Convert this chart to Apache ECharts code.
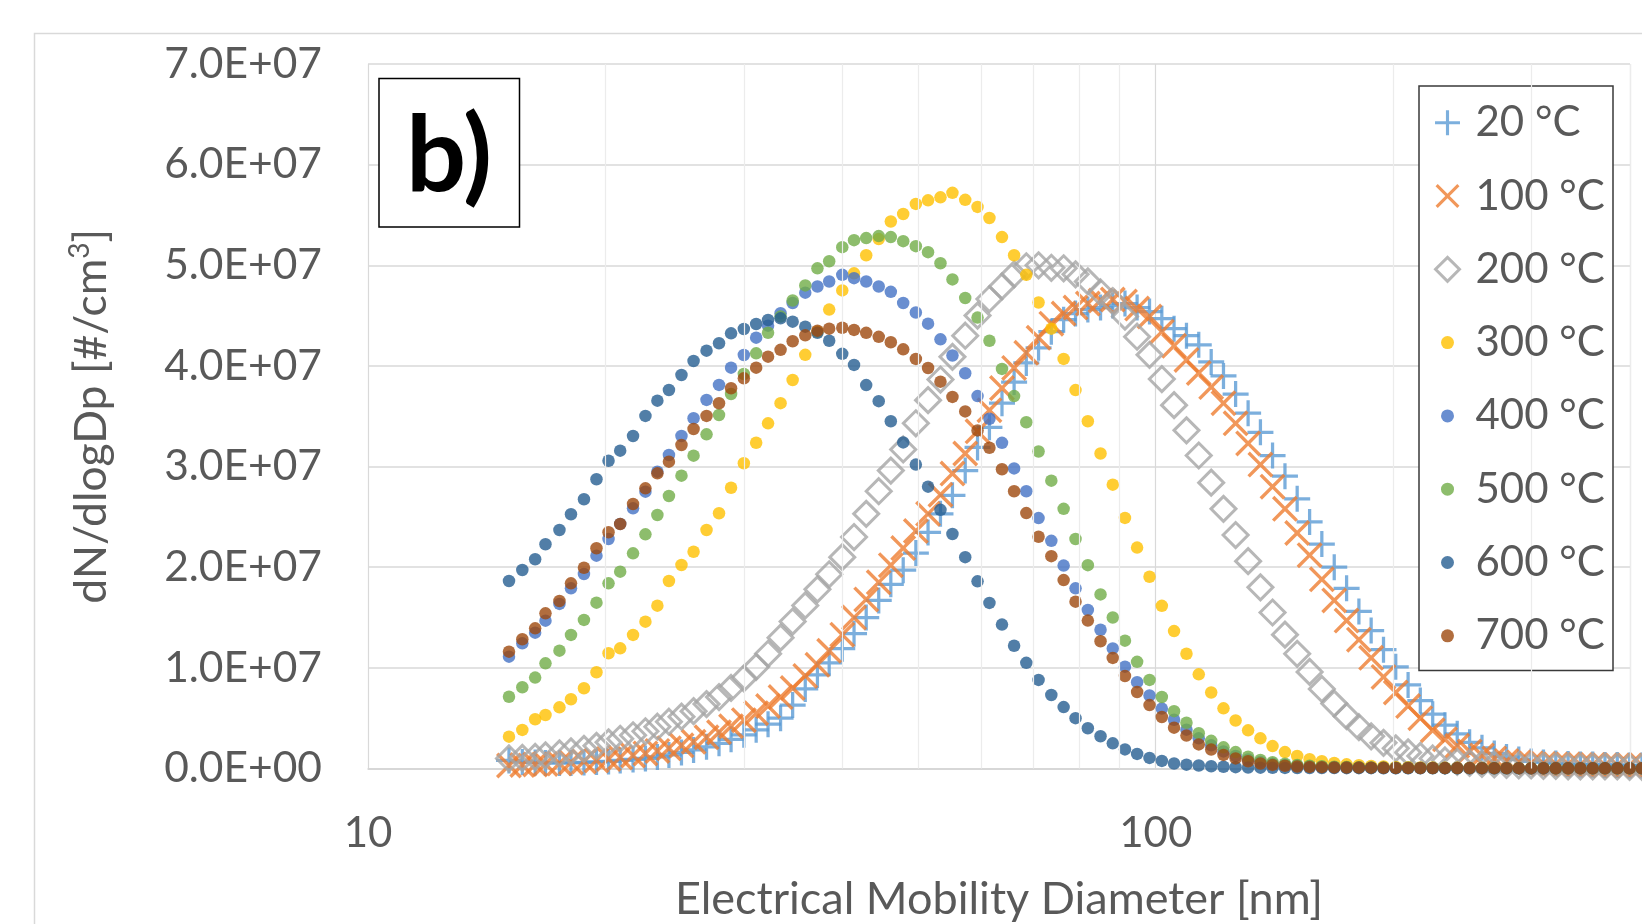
<!DOCTYPE html>
<html>
<head>
<meta charset="utf-8">
<script src="https://cdn.jsdelivr.net/npm/echarts@6/dist/echarts.min.js"></script>
<style>
html,body{margin:0;padding:0;background:#ffffff;}
#chart{width:1642px;height:924px;}
</style>
</head>
<body>
<div id="chart"></div>
<script>
// Electrical mobility diameter channels [nm]
const diameters = [
  15.1, 15.7, 16.3, 16.8, 17.5, 18.1, 18.8, 19.5, 20.2, 20.9,
  21.7, 22.5, 23.3, 24.1, 25.0, 25.9, 26.9, 27.9, 28.9, 30.0,
  31.1, 32.2, 33.4, 34.6, 35.9, 37.2, 38.5, 40.0, 41.4, 42.9,
  44.5, 46.1, 47.8, 49.6, 51.4, 53.3, 55.2, 57.3, 59.4, 61.5,
  63.8, 66.1, 68.5, 71.0, 73.7, 76.4, 79.1, 82.0, 85.1, 88.2,
  91.4, 94.7, 98.2, 101.8, 105.5, 109.4, 113.4, 117.6, 121.9, 126.3,
  131.0, 135.8, 140.7, 145.9, 151.2, 156.8, 162.5, 168.5, 174.7, 181.1,
  187.7, 194.6, 201.7, 209.1, 216.7, 224.7, 232.9, 241.4, 250.3, 259.5,
  269.0, 278.8, 289.0, 299.6, 310.6, 322.0, 333.8, 346.0, 358.7, 371.8,
  385.4, 399.5, 414.2
];

// dN/dlogDp values, in units of 1E+07 #/cm3
const s20 = [
  0.08, 0.065, 0.06, 0.055, 0.055, 0.055, 0.06, 0.065, 0.07, 0.08,
  0.09, 0.10, 0.115, 0.135, 0.16, 0.185, 0.215, 0.25, 0.29, 0.335,
  0.385, 0.44, 0.50, 0.63, 0.79, 0.93, 1.05, 1.19, 1.34, 1.50,
  1.67, 1.83, 1.97, 2.14, 2.345, 2.53, 2.715, 2.96, 3.19, 3.39,
  3.63, 3.84, 4.03, 4.18, 4.34, 4.46, 4.52, 4.56, 4.58, 4.60,
  4.62, 4.58, 4.54, 4.47, 4.37, 4.30, 4.21, 4.04, 3.90, 3.72,
  3.53, 3.34, 3.11, 2.905, 2.68, 2.45, 2.23, 2.00, 1.79, 1.56,
  1.37, 1.18, 1.01, 0.83, 0.675, 0.54, 0.43, 0.345, 0.26, 0.205,
  0.15, 0.115, 0.09, 0.07, 0.06, 0.05, 0.045, 0.04, 0.04, 0.035,
  0.035, 0.03, 0.03
];
const s100 = [
  0.03, 0.035, 0.04, 0.045, 0.05, 0.06, 0.07, 0.08, 0.095, 0.11,
  0.13, 0.15, 0.175, 0.20, 0.23, 0.265, 0.31, 0.36, 0.42, 0.48,
  0.55, 0.62, 0.71, 0.80, 0.92, 1.03, 1.17, 1.33, 1.50, 1.68,
  1.85, 2.02, 2.19, 2.36, 2.53, 2.72, 2.93, 3.13, 3.35, 3.56,
  3.78, 3.98, 4.13, 4.28, 4.42, 4.52, 4.58, 4.62, 4.65, 4.66,
  4.64, 4.57, 4.49, 4.34, 4.20, 4.06, 3.93, 3.79, 3.63, 3.43,
  3.23, 3.02, 2.80, 2.58, 2.34, 2.12, 1.88, 1.67, 1.47, 1.28,
  1.10, 0.91, 0.755, 0.62, 0.50, 0.38, 0.29, 0.225, 0.17, 0.13,
  0.10, 0.075, 0.06, 0.05, 0.045, 0.04, 0.04, 0.035, 0.035, 0.03,
  0.03, 0.03, 0.03
];
const s200 = [
  0.10, 0.105, 0.115, 0.13, 0.15, 0.17, 0.195, 0.225, 0.26, 0.295,
  0.33, 0.37, 0.415, 0.465, 0.515, 0.57, 0.64, 0.71, 0.80, 0.895,
  1.01, 1.14, 1.30, 1.46, 1.62, 1.78, 1.93, 2.10, 2.30, 2.53,
  2.755, 2.96, 3.17, 3.43, 3.66, 3.865, 4.09, 4.30, 4.50, 4.665,
  4.79, 4.91, 4.99, 5.00, 4.975, 4.97, 4.91, 4.84, 4.73, 4.645,
  4.49, 4.29, 4.11, 3.87, 3.61, 3.36, 3.11, 2.84, 2.58, 2.32,
  2.06, 1.80, 1.55, 1.33, 1.14, 0.96, 0.79, 0.645, 0.52, 0.41,
  0.32, 0.255, 0.20, 0.16, 0.125, 0.10, 0.08, 0.065, 0.055, 0.045,
  0.04, 0.035, 0.03, 0.03, 0.025, 0.025, 0.02, 0.02, 0.02, 0.02,
  0.02, 0.015, 0.015
];
const s300 = [
  0.316, 0.383, 0.489, 0.532, 0.608, 0.688, 0.797, 0.956, 1.145, 1.194,
  1.327, 1.459, 1.618, 1.863, 2.022, 2.154, 2.37, 2.536, 2.79, 3.033,
  3.237, 3.43, 3.63, 3.86, 4.11, 4.34, 4.56, 4.75, 4.92, 5.10,
  5.26, 5.435, 5.51, 5.61, 5.645, 5.675, 5.72, 5.65, 5.58, 5.47,
  5.28, 5.10, 4.905, 4.63, 4.37, 4.07, 3.76, 3.45, 3.13, 2.82,
  2.49, 2.195, 1.905, 1.616, 1.365, 1.14, 0.936, 0.755, 0.598, 0.477,
  0.379, 0.30, 0.223, 0.163, 0.124, 0.093, 0.072, 0.055, 0.041, 0.032,
  0.025, 0.02, 0.016, 0.013, 0.011, 0.009, 0.008, 0.007, 0.006, 0.005,
  0.005, 0.004, 0.004, 0.004, 0.003, 0.003, 0.003, 0.003, 0.002, 0.002,
  0.002, 0.002, 0.002
];
const s400 = [
  1.111, 1.244, 1.35, 1.469, 1.635, 1.79, 1.933, 2.115, 2.28, 2.43,
  2.585, 2.751, 2.949, 3.115, 3.304, 3.48, 3.662, 3.811, 3.983, 4.109,
  4.281, 4.40, 4.523, 4.625, 4.728, 4.789, 4.839, 4.905, 4.872, 4.839,
  4.789, 4.736, 4.625, 4.531, 4.42, 4.264, 4.104, 3.927, 3.70, 3.475,
  3.236, 2.982, 2.755, 2.488, 2.262, 2.016, 1.79, 1.576, 1.379, 1.193,
  1.012, 0.858, 0.725, 0.595, 0.484, 0.386, 0.30, 0.23, 0.17, 0.125,
  0.09, 0.065, 0.046, 0.034, 0.025, 0.019, 0.015, 0.012, 0.01, 0.008,
  0.007, 0.006, 0.005, 0.005, 0.004, 0.004, 0.003, 0.003, 0.003, 0.003,
  0.002, 0.002, 0.002, 0.002, 0.002, 0.002, 0.002, 0.002, 0.002, 0.002,
  0.002, 0.002, 0.002
];
const s500 = [
  0.713, 0.807, 0.903, 1.045, 1.171, 1.327, 1.476, 1.648, 1.84, 1.956,
  2.138, 2.327, 2.519, 2.708, 2.91, 3.108, 3.32, 3.512, 3.721, 3.92,
  4.125, 4.33, 4.49, 4.65, 4.80, 4.97, 5.04, 5.18, 5.25, 5.27,
  5.29, 5.28, 5.24, 5.19, 5.13, 5.02, 4.86, 4.675, 4.48, 4.25,
  3.97, 3.70, 3.44, 3.15, 2.86, 2.58, 2.28, 2.02, 1.73, 1.50,
  1.27, 1.06, 0.88, 0.71, 0.57, 0.455, 0.35, 0.275, 0.21, 0.163,
  0.117, 0.085, 0.062, 0.047, 0.036, 0.028, 0.022, 0.018, 0.015, 0.012,
  0.01, 0.009, 0.008, 0.007, 0.006, 0.005, 0.005, 0.004, 0.004, 0.004,
  0.003, 0.003, 0.003, 0.003, 0.003, 0.002, 0.002, 0.002, 0.002, 0.002,
  0.002, 0.002, 0.002
];
const s600 = [
  1.863, 1.972, 2.079, 2.228, 2.37, 2.526, 2.675, 2.874, 3.058, 3.158,
  3.304, 3.503, 3.655, 3.761, 3.91, 4.049, 4.152, 4.225, 4.324, 4.367,
  4.417, 4.456, 4.473, 4.44, 4.39, 4.33, 4.25, 4.12, 4.01, 3.81,
  3.65, 3.45, 3.24, 3.02, 2.80, 2.57, 2.33, 2.10, 1.86, 1.645,
  1.43, 1.22, 1.05, 0.88, 0.73, 0.61, 0.50, 0.40, 0.32, 0.25,
  0.19, 0.145, 0.105, 0.075, 0.05, 0.038, 0.03, 0.022, 0.017, 0.013,
  0.01, 0.008, 0.007, 0.006, 0.005, 0.005, 0.004, 0.004, 0.003, 0.003,
  0.003, 0.002, 0.002, 0.002, 0.002, 0.002, 0.002, 0.002, 0.002, 0.002,
  0.002, 0.002, 0.002, 0.002, 0.002, 0.002, 0.002, 0.002, 0.002, 0.002,
  0.002, 0.002, 0.002
];
const s700 = [
  1.161, 1.284, 1.393, 1.542, 1.664, 1.84, 1.995, 2.188, 2.347, 2.429,
  2.628, 2.784, 2.933, 3.049, 3.214, 3.373, 3.503, 3.629, 3.778, 3.877,
  3.983, 4.092, 4.16, 4.245, 4.304, 4.35, 4.37, 4.379, 4.358, 4.329,
  4.289, 4.235, 4.165, 4.07, 3.979, 3.844, 3.692, 3.548, 3.359, 3.187,
  2.973, 2.755, 2.538, 2.303, 2.11, 1.872, 1.658, 1.47, 1.264, 1.099,
  0.919, 0.76, 0.63, 0.512, 0.406, 0.327, 0.239, 0.188, 0.135, 0.10,
  0.072, 0.05, 0.036, 0.027, 0.02, 0.016, 0.013, 0.011, 0.01, 0.009,
  0.008, 0.007, 0.006, 0.006, 0.005, 0.005, 0.004, 0.004, 0.004, 0.003,
  0.003, 0.003, 0.003, 0.003, 0.003, 0.002, 0.002, 0.002, 0.002, 0.002,
  0.002, 0.002, 0.002
];

const seriesNames = ['20 °C', '100 °C', '200 °C', '300 °C', '400 °C', '500 °C', '600 °C', '700 °C'];
const seriesValues = [s20, s100, s200, s300, s400, s500, s600, s700];
const seriesColors = ['#5B9BD5', '#ED7D31', '#A5A5A5', '#FFC000', '#4472C4', '#70AD47', '#255E91', '#9E480E'];

const yTickValues = [0, 1, 2, 3, 4, 5, 6, 7];          // x 1E+07
const xMajorTicks = [10, 100];
const xMinorGrid = [20, 30, 40, 50, 60, 70, 80, 90, 200, 300, 400];

const FONT = 'Lato, "Open Sans", sans-serif';
const TXT = '#595959';

// marker shapes
const plusShape = 'M44,2H56V44H98V56H56V98H44V56H2V44H44Z';
const crossShape = 'M4,12.5L12.5,4L50,41.5L87.5,4L96,12.5L58.5,50L96,87.5L87.5,96L50,58.5L12.5,96L4,87.5L41.5,50Z';
const boxPad = 'M0,0M100,100';
const legendIcons = [
  'path://' + boxPad + plusShape,
  'path://' + boxPad + crossShape,
  'path://' + boxPad + 'M50,4L96,50L50,96L4,50Z',
  'path://' + boxPad + 'M50,25A25,25,0,1,1,50,75A25,25,0,1,1,50,25Z'
];

function buildSeries(i) {
  const data = diameters.map((d, k) => [d, seriesValues[i][k]]);
  const base = {
    name: seriesNames[i],
    type: 'scatter',
    data: data,
    clip: false,
    animation: false,
    silent: true,
    z: 3
  };
  if (i === 0) {
    base.symbol = 'path://' + plusShape;
    base.symbolSize = 26;
    base.itemStyle = { color: seriesColors[i] };
  } else if (i === 1) {
    base.symbol = 'path://' + crossShape;
    base.symbolSize = 26;
    base.itemStyle = { color: seriesColors[i] };
  } else if (i === 2) {
    base.symbol = 'diamond';
    base.symbolSize = 25;
    base.itemStyle = { color: 'rgba(255,255,255,0)', borderColor: seriesColors[i], borderWidth: 3 };
  } else {
    base.symbol = 'circle';
    base.symbolSize = 12.5;
    base.itemStyle = { color: seriesColors[i] };
  }
  return base;
}

const legendData = seriesNames.map((n, i) => {
  const item = { name: n, icon: legendIcons[Math.min(i, 3)] };
  if (i === 2) item.itemStyle = { color: 'rgba(255,255,255,0)', borderColor: seriesColors[2], borderWidth: 3 };
  else item.itemStyle = { color: seriesColors[i], borderWidth: 0 };
  return item;
});

const series = [{
  name: 'minorGrid',
  type: 'line',
  data: [],
  silent: true,
  animation: false,
  z: 1,
  markLine: {
    silent: true,
    animation: false,
    symbol: ['none', 'none'],
    label: { show: false },
    lineStyle: { color: '#ececec', width: 1.2, type: 'solid' },
    emphasis: { disabled: true },
    data: xMinorGrid.map(v => ({ xAxis: v }))
  }
}].concat(seriesNames.map((n, i) => buildSeries(i)));

const chart = echarts.init(document.getElementById('chart'), null, { renderer: 'canvas', width: 1642, height: 924 });

chart.setOption({
  backgroundColor: '#ffffff',
  animation: false,
  textStyle: { fontFamily: FONT },
  grid: {
    left: 368, top: 64, width: 1262, height: 704.5,
    containLabel: false,
    outerBoundsMode: 'none'
  },
  xAxis: {
    type: 'log',
    logBase: 10,
    min: 10,
    max: 400,
    name: 'Electrical Mobility Diameter [nm]',
    nameLocation: 'middle',
    nameGap: 108,
    nameTextStyle: { fontFamily: FONT, fontSize: 45, color: TXT },
    axisLine: { show: true, lineStyle: { color: '#d4d4d4', width: 1.5 } },
    axisTick: { show: false },
    axisLabel: {
      fontFamily: FONT, fontSize: 42, color: TXT, margin: 44,
      formatter: v => (xMajorTicks.indexOf(Math.round(v)) >= 0 ? String(Math.round(v)) : '')
    },
    splitLine: { show: true, lineStyle: { color: '#d9d9d9', width: 1.2 } },
    minorTick: { show: false },
    minorSplitLine: { show: false }
  },
  yAxis: {
    type: 'value',
    min: yTickValues[0],
    max: yTickValues[yTickValues.length - 1],
    interval: 1,
    name: 'dN/dlogDp [#/cm{sup|3}]',
    nameLocation: 'middle',
    nameGap: 250,
    nameTextStyle: {
      fontFamily: FONT, fontSize: 44.5, color: TXT, lineHeight: 52,
      rich: { sup: { fontFamily: FONT, fontSize: 28, color: TXT, lineHeight: 28, verticalAlign: 'top' } }
    },
    axisLine: { show: false },
    axisTick: { show: false },
    axisLabel: {
      fontFamily: FONT, fontSize: 42.5, color: TXT, margin: 46,
      formatter: v => (v === 0 ? '0.0E+00' : v.toFixed(1) + 'E+07')
    },
    splitLine: { show: true, lineStyle: { color: '#d9d9d9', width: 1.5 } }
  },
  legend: {
    orient: 'vertical',
    left: 1433,
    top: 101.7,
    padding: 0,
    itemWidth: 46,
    itemHeight: 26,
    itemGap: 31.3,
    selectedMode: false,
    symbolKeepAspect: true,
    textStyle: { fontFamily: FONT, fontSize: 42, color: TXT, lineHeight: 42 },
    data: legendData,
    z: 6
  },
  graphic: [
    { type: 'rect', silent: true, z: 0, shape: { x: 34.5, y: 33.5, width: 2000, height: 1000 },
      style: { fill: 'none', stroke: '#d9d9d9', lineWidth: 1.5 } },
    { type: 'rect', silent: true, z: 4, shape: { x: 1419, y: 86, width: 194, height: 584.5 },
      style: { fill: '#ffffff', stroke: '#3a3a3a', lineWidth: 1.5 } },
    { type: 'rect', silent: true, z: 4, shape: { x: 379, y: 78.5, width: 140.5, height: 148.5 },
      style: { fill: '#ffffff', stroke: '#000000', lineWidth: 1.5 } },
    { type: 'text', silent: true, z: 5, x: 449, y: 157,
      style: { text: 'b)', fontFamily: FONT, fontWeight: 'bold', fontSize: 106, fill: '#000000', align: 'center', verticalAlign: 'middle' } }
  ],
  series: series
});
</script>
</body>
</html>
